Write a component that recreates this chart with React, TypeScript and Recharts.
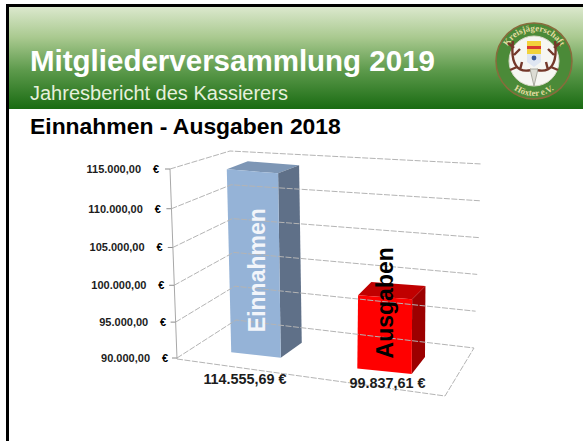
import { BarChart, Bar, YAxis, XAxis, LabelList } from "recharts";

const categories = ["Einnahmen", "Ausgaben"];
const values = [114555.69, 99837.61];
const valueLabels = ["114.555,69 €", "99.837,61 €"];
const yTicks = [90000, 95000, 100000, 105000, 110000, 115000];
const yTickLabels = ["90.000,00", "95.000,00", "100.000,00", "105.000,00", "110.000,00", "115.000,00"];

const Y_MIN = yTicks[0];
const Y_MAX = yTicks[yTicks.length - 1];

const FONT = "'Liberation Sans', Arial, sans-serif";
const FACE_COLORS = [
  { front: "#95b3d7", top: "#7d96b5", side: "#5f7088" },
  { front: "#ff0000", top: "#c00000", side: "#9c0000" },
];
const GRID = "#b4b4b4";

const data = categories.map((name, i) => ({
  name,
  value: values[i],
  label: valueLabels[i],
}));

function pts(list: number[][]) {
  return list.map((p) => p.join(",")).join(" ");
}

// y axis tick doubles as the perspective wall: label, tick mark, dashed grid line.
function WallTick({ y, payload, index }: any) {
  const t = (payload.value - Y_MIN) / (Y_MAX - Y_MIN);
  const ax = 177 - 7 * t;
  const bend = 12 * t * (1 - t); // axis is not quite linear in the 3d view
  const ly = y + bend;
  const back = [230 + (1 - t) * 6, y - 18 - (1 - t) * 20];
  const end = [482 - (1 - t) * 8, y - 5 - (1 - t) * 5];
  return (
    <g>
      <text x={ax - 27 - 2 * t} y={ly + 4} textAnchor="end" fontFamily={FONT} fontWeight="bold" fontSize={11} fill="#1c1c1c">
        {yTickLabels[index]}
      </text>
      <text x={ax - 9 - 2 * t} y={ly + 4} textAnchor="end" fontFamily={FONT} fontWeight="bold" fontSize={11} fill="#000">
        €
      </text>
      <line x1={ax - 5} y1={ly} x2={ax} y2={ly} stroke="#8c8c8c" />
      <polyline points={pts([[ax, ly], back, end])} fill="none" stroke={GRID} strokeDasharray="6 1.5" />
      {t === 0 && (
        <>
          <line x1={ax - 7} y1={y - 189} x2={ax} y2={y + 1} stroke="#a8a8a8" />
          <polyline points={pts([[ax, ly + 1], [445, 396], [474, 348]])} fill="none" stroke={GRID} strokeDasharray="6 1.5" />
        </>
      )}
    </g>
  );
}

// Box drawn around the rectangle the scale gives, skewed by where it sits on the floor.
function Box3D({ x, y, width, height, index }: any) {
  const colors = FACE_COLORS[index];
  const bottom = y + height;
  const cx = x + width / 2;
  const w = width + (x - 295) * 0.038;
  const h = height * 0.985;
  const lean = (x - 320) * 0.00027 * h;
  const baseY = bottom - 6 + (x - 229) * 0.127;

  const bl = [cx - w / 2, baseY];
  const br = [cx + w / 2, baseY + 5.5];
  const tl = [bl[0] + lean, baseY - h];
  const tr = [br[0] + lean * 0.6, baseY + 5.5 - h - 1.5];

  const dx = 21 - (x - 230) * 0.06;
  const dyTop = -8 - (x - 230) * 0.04;
  const dyBase = -15 - (x - 230) * 0.016;
  const tlb = [tl[0] + dx, tl[1] + dyTop];
  const trb = [tr[0] + dx, tr[1] + dyTop];
  const brb = [br[0] + dx, br[1] + dyBase];

  return (
    <g>
      <polygon points={pts([tl, tlb, trb, tr])} fill={colors.top} />
      <polygon points={pts([tr, trb, brb, br])} fill={colors.side} />
      <polygon points={pts([tl, tr, br, bl])} fill={colors.front} />
    </g>
  );
}

function NameLabel({ x, y, width, height, value, index }: any) {
  const tx = x + width / 2 + (index === 0 ? 9 : 8);
  const ty = y + height / 2 + (index === 0 ? 5 : -18);
  return (
    <text
      transform={`translate(${tx},${ty}) rotate(-90)`}
      textAnchor="middle"
      fontFamily={FONT}
      fontWeight="bold"
      fontSize={23}
      fill={index === 0 ? "#f2f5fa" : "#000"}
    >
      {value}
    </text>
  );
}

function ValueLabel({ x, y, width, height, value, index }: any) {
  const tx = x + width / 2 + (index === 0 ? -11 : 3);
  const ty = y + height + (index === 0 ? 26 : 30);
  return (
    <text x={tx} y={ty} textAnchor="middle" fontFamily={FONT} fontWeight="bold" fontSize={14.4} fill="#1c1c1c">
      {value}
    </text>
  );
}

function Logo() {
  return (
    <svg width={84} height={84} viewBox="-42 -42 84 84" style={{ position: "absolute", left: 492, top: 19 }}>
      <defs>
        <path id="logoTop" d="M -30 0 A 30 30 0 0 1 30 0" />
        <path id="logoBot" d="M -35 0 A 35 35 0 0 0 35 0" />
      </defs>
      <circle r={38} fill="#4b8a38" stroke="#8a6b3c" strokeWidth={1.5} />
      <circle r={25} fill="#f6f6f2" stroke="#d8d8c8" />
      <text fontFamily="'Liberation Serif', serif" fontWeight="bold" fontSize={9} fill="#e4dca0">
        <textPath href="#logoTop" startOffset="50%" textAnchor="middle">Kreisjägerschaft</textPath>
      </text>
      <text fontFamily="'Liberation Serif', serif" fontWeight="bold" fontSize={9} fill="#e4dca0">
        <textPath href="#logoBot" startOffset="50%" textAnchor="middle">Höxter e.V.</textPath>
      </text>
      <path
        d="M -3 9 C -16 12 -24 4 -21 -20 M 3 9 C 16 12 24 4 21 -20 M -20 -6 L -14 -12 M 20 -6 L 14 -12 M -20 -13 L -26 -18 M 20 -13 L 26 -18 M -17 6 L -24 9 M 17 6 L 24 9 M -14 9 L -12 1 M 14 9 L 12 1"
        fill="none"
        stroke="#74382a"
        strokeWidth={2.4}
      />
      <rect x={-7} y={-20} width={14} height={5} fill="#f2d23c" />
      <rect x={-7} y={-15} width={14} height={3} fill="#d83a30" />
      <rect x={-7} y={-12} width={14} height={5} fill="#f2d23c" />
      <path d="M -7 -7 L 7 -7 L 7 1 L 0 6 L -7 1 Z" fill="#dfe6f2" />
      <circle cx={0} cy={-3} r={2.4} fill="#3a5a9a" />
      <path d="M -4 8 L 4 8 L 0 25 Z" fill="#dcdcd4" stroke="#9a9a90" strokeWidth={0.8} />
    </svg>
  );
}

export default function App() {
  return (
    <div style={{ position: "absolute", left: 0, top: 0, width: 583, height: 441, background: "#fff", overflow: "hidden", fontFamily: FONT }}>
      <div style={{ position: "absolute", left: 6, top: 4, width: 577, height: 437, borderLeft: "3px solid #000", borderTop: "3px solid #000", boxSizing: "border-box" }} />
      <div style={{ position: "absolute", left: 9, top: 7, width: 574, height: 102, background: "linear-gradient(#dbe8cd 0%, #a9c98f 30%, #5d9a4c 62%, #196b12 100%)" }} />
      <div style={{ position: "absolute", left: 30, top: 45, fontSize: 29.5, fontWeight: "bold", color: "#fff", lineHeight: "32px", whiteSpace: "nowrap" }}>
        Mitgliederversammlung 2019
      </div>
      <div style={{ position: "absolute", left: 30, top: 82, fontSize: 20, color: "#e6f0dc", lineHeight: "22px", whiteSpace: "nowrap" }}>
        Jahresbericht des Kassierers
      </div>
      <div style={{ position: "absolute", left: 30, top: 114, fontSize: 22.9, fontWeight: "bold", color: "#000", lineHeight: "24px", whiteSpace: "nowrap" }}>
        Einnahmen - Ausgaben 2018
      </div>
      <Logo />
      <div style={{ position: "absolute", left: 0, top: 0 }}>
        <BarChart
          width={583}
          height={441}
          data={data}
          barSize={52}
          margin={{ top: 169, right: 134, bottom: 83, left: 0 }}
        >
          <XAxis dataKey="name" hide />
          <YAxis
            width={192}
            domain={[Y_MIN, Y_MAX]}
            ticks={yTicks}
            tick={WallTick}
            axisLine={false}
            tickLine={false}
            interval={0}
          />
          <Bar dataKey="value" shape={Box3D} isAnimationActive={false}>
            <LabelList dataKey="name" content={NameLabel} />
            <LabelList dataKey="label" content={ValueLabel} />
          </Bar>
        </BarChart>
      </div>
    </div>
  );
}
